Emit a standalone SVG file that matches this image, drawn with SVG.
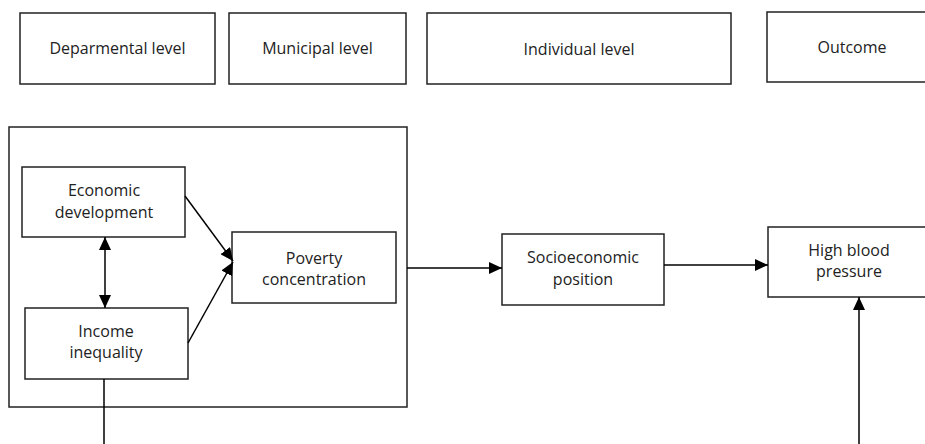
<svg xmlns="http://www.w3.org/2000/svg" width="925" height="444" viewBox="0 0 925 444">
<defs>
<marker id="ah" viewBox="0 0 13 12" refX="13" refY="6" markerWidth="13" markerHeight="12" markerUnits="userSpaceOnUse" orient="auto-start-reverse">
<path d="M0,0 L13,6 L0,12 Z" fill="#000"/>
</marker>
<style>
.box{fill:#fff;stroke:#222;stroke-width:1.5}
.t{font-family:"Open Sans","Noto Sans","DejaVu Sans",sans-serif;font-size:16px;fill:#222;text-anchor:middle}
.c{fill:none;stroke:#000;stroke-width:1.5}
</style>
</defs>
<rect width="925" height="444" fill="#fff"/>
<g id="container"><rect class="box" x="9" y="127" width="398" height="280" fill="none"/></g>
<g id="deparmental"><rect class="box" x="20" y="13" width="195" height="71"/><text class="t" x="117.5" y="54">Deparmental level</text></g>
<g id="municipal"><rect class="box" x="229" y="13" width="177" height="71"/><text class="t" x="317.5" y="54">Municipal level</text></g>
<g id="individual"><rect class="box" x="427" y="13" width="304" height="71"/><text class="t" x="579" y="55">Individual level</text></g>
<g id="outcome"><rect class="box" x="767" y="12" width="170" height="70"/><text class="t" x="852" y="53">Outcome</text></g>
<g id="econdev"><rect class="box" x="22" y="167" width="163" height="70"/><text class="t" x="104" y="196">Economic</text><text class="t" x="104" y="218">development</text></g>
<g id="income"><rect class="box" x="25" y="308" width="163" height="71"/><text class="t" x="106" y="337">Income</text><text class="t" x="106" y="358">inequality</text></g>
<g id="poverty"><rect class="box" x="232" y="232" width="164" height="71"/><text class="t" x="314" y="264">Poverty</text><text class="t" x="314" y="285">concentration</text></g>
<g id="socio"><rect class="box" x="502" y="234" width="162" height="71"/><text class="t" x="583" y="263">Socioeconomic</text><text class="t" x="583" y="285">position</text></g>
<g id="hbp"><rect class="box" x="768" y="227" width="170" height="70"/><text class="t" x="849" y="256">High blood</text><text class="t" x="849" y="277">pressure</text></g>
<g id="connectors">
<line class="c" x1="105" y1="237" x2="105" y2="308" marker-start="url(#ah)" marker-end="url(#ah)"/>
<line class="c" x1="185" y1="196" x2="233" y2="261" marker-end="url(#ah)"/>
<line class="c" x1="188" y1="343" x2="233" y2="262" marker-end="url(#ah)"/>
<line class="c" x1="407" y1="268" x2="502" y2="268" marker-end="url(#ah)"/>
<line class="c" x1="664" y1="265" x2="768" y2="265" marker-end="url(#ah)"/>
<line class="c" x1="104" y1="379" x2="104" y2="444"/>
<line class="c" x1="859" y1="444" x2="859" y2="297" marker-end="url(#ah)"/>
</g>
</svg>
